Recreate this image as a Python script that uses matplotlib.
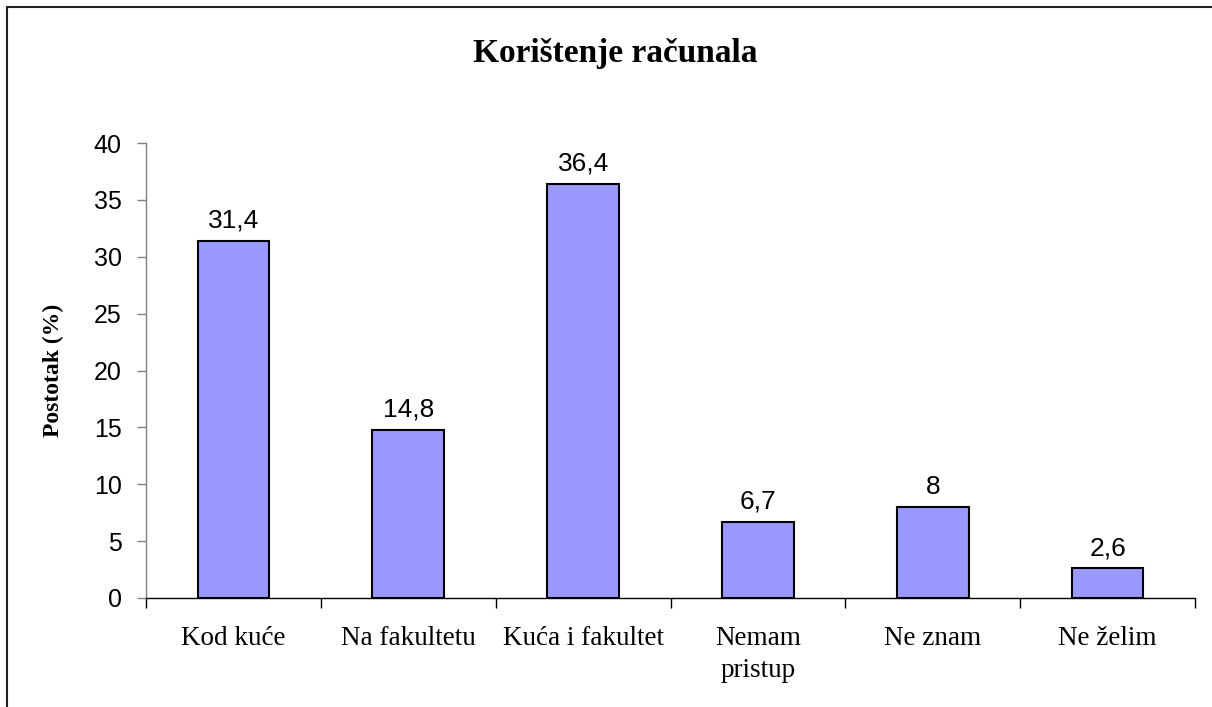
import matplotlib.pyplot as plt
import numpy as np
from matplotlib.patches import Rectangle

# --- Datos --- #
categorias = ['Kod kuće', 'Na fakultetu', 'Kuća i fakultet', 'Nemam\npristup', 'Ne znam', 'Ne želim']
valores = [31.4, 14.8, 36.4, 6.7, 8, 2.6]
etiquetas = ['31,4', '14,8', '36,4', '6,7', '8', '2,6']
yticks = [0, 5, 10, 15, 20, 25, 30, 35, 40]

serif = 'Liberation Serif'
sans = 'Liberation Sans'

fig = plt.figure(figsize=(12.12, 7.07), dpi=100)
ax = fig.add_axes([0.1205, 0.1542, 0.8655, 0.6435])

x = np.arange(len(categorias))
ax.bar(x, valores, width=0.41, color='#9999FF', edgecolor='black', linewidth=1.5, zorder=3)

# --- Etiquetas de valores --- #
for xi, v, t in zip(x, valores, etiquetas):
    ax.annotate(t, (xi, v), xytext=(0, 9.5), textcoords='offset points',
                ha='center', va='baseline', fontsize=19, family=sans)

ax.set_xlim(-0.5, len(categorias) - 0.5)
ax.set_ylim(0, 40)
ax.set_yticks(yticks)
ax.set_yticklabels([str(t) for t in yticks], family=sans, fontsize=18)

ax.set_xticks(x)
ax.set_xticklabels(categorias, family=serif, fontsize=19.5, linespacing=1.4)
ax.set_xticks(np.arange(-0.5, len(categorias)), minor=True)
ax.tick_params(axis='x', which='major', length=0, pad=20)
ax.tick_params(axis='x', which='minor', length=7, width=1, color='black', direction='out')
ax.tick_params(axis='y', length=6.5, width=1, color='#808080', pad=11)

for s in ['top', 'right']:
    ax.spines[s].set_visible(False)
ax.spines['left'].set_color('#808080')
ax.spines['left'].set_linewidth(1)
ax.spines['bottom'].set_color('black')
ax.spines['bottom'].set_linewidth(1)

fig.text(0.508, 0.924, 'Korištenje računala', ha='center', va='center',
         fontsize=24, fontweight='bold', family=serif)
fig.text(0.044, 0.4767, 'Postotak (%)', ha='center', va='center', rotation=90,
         fontsize=17, fontweight='bold', family=serif)

# --- Borde --- #
fig.patches.append(Rectangle((7 / 1212, -0.05), 1.2, 1 - 7 / 707 + 0.05,
                             transform=fig.transFigure, fill=False,
                             edgecolor='#222222', linewidth=1.5))

fig.savefig('out.png', dpi=100)
